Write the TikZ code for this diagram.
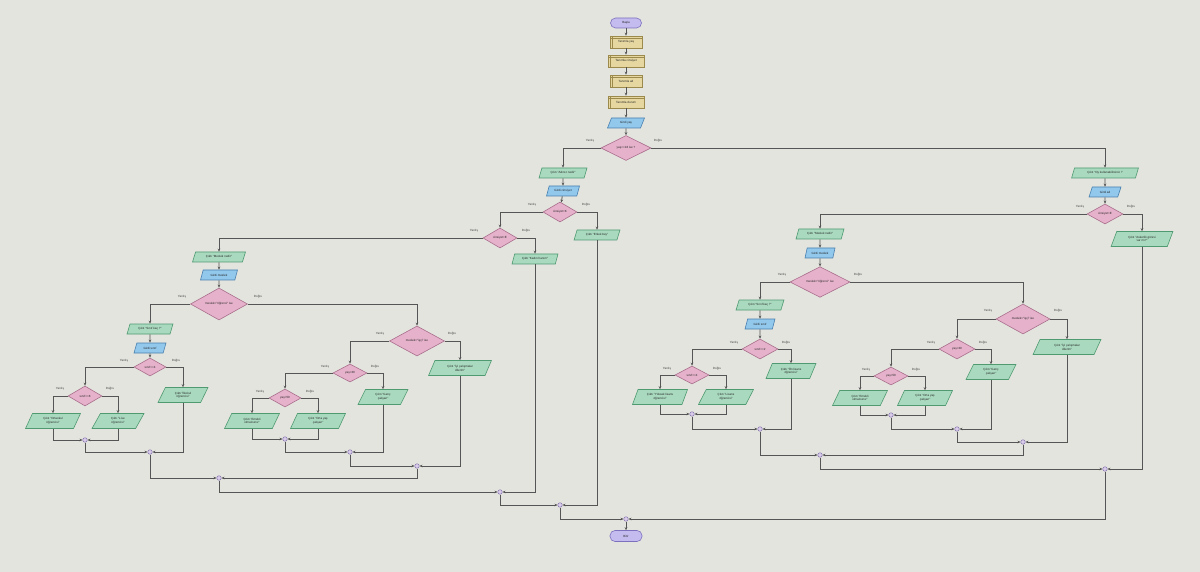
\documentclass[tikz,border=0pt]{standalone}
\usepackage{fontspec}
\setmainfont{Liberation Sans}
\usetikzlibrary{shapes.geometric,arrows.meta}
\definecolor{bgc}{HTML}{E3E4DE}
\definecolor{linec}{HTML}{555555}
\definecolor{termf}{HTML}{C4BCEE}\definecolor{termd}{HTML}{7D70BC}
\definecolor{declf}{HTML}{E6D7A0}\definecolor{decld}{HTML}{9C8A4C}
\definecolor{inpf}{HTML}{92C8EC}\definecolor{inpd}{HTML}{4A80AE}
\definecolor{outf}{HTML}{A9DABF}\definecolor{outd}{HTML}{4F9A70}
\definecolor{decf}{HTML}{E6B2CB}\definecolor{decd}{HTML}{A86E8C}
\definecolor{jnf}{HTML}{D9CCEA}\definecolor{jnd}{HTML}{8A78AE}
\tikzset{
  txt/.style={font=\fontsize{3}{3.6}\selectfont, text=black!85, inner sep=0.5pt, align=center},
  term/.style={txt, draw=termd, fill=termf, rounded corners=5pt, line width=0.6pt, minimum width=#1, minimum height=10pt},
  decl/.style={txt, draw=decld, fill=declf, line width=0.6pt, minimum width=#1, minimum height=12pt,
    path picture={\draw[decld, line width=0.4pt] ([xshift=2pt]path picture bounding box.north west) -- ([xshift=2pt]path picture bounding box.south west);
                  \draw[decld, line width=0.4pt] ([yshift=-2pt]path picture bounding box.north west) -- ([yshift=-2pt]path picture bounding box.north east);}},
  para/.style={txt, trapezium, trapezium left angle=65, trapezium right angle=115, trapezium stretches=true, line width=0.6pt},
  inp/.style={para, draw=inpd, fill=inpf, minimum width=#1, minimum height=10pt},
  outp/.style={para, draw=outd, fill=outf, minimum width=#1, minimum height=10pt},
  outpp/.style={para, draw=outd, fill=outf, minimum width=#1, minimum height=15pt},
  dec/.style 2 args={txt, diamond, draw=decd, fill=decf, line width=0.6pt, minimum width=#1, minimum height=#2, inner sep=0pt},
  jn/.style={circle, draw=jnd, fill=jnf, line width=0.5pt, minimum size=4.5pt, inner sep=0pt},
  lab/.style={font=\fontsize{3}{3.6}\selectfont, text=black!75, inner sep=0pt},
  arr/.style={draw=linec, line width=0.8pt, -{Stealth[length=3pt,width=2.6pt]}},
  ln/.style={draw=linec, line width=0.8pt}
}
\begin{document}
\begin{tikzpicture}[x=1pt,y=-1pt]
\fill[bgc] (0,0) rectangle (1200,572);
\useasboundingbox (0,0) rectangle (1200,572);
% ---- spine
\node[term=31pt] (start) at (626,23) {Başla};
\node[decl=32pt] (dc1) at (626,42) {Tanımla yaş};
\node[decl=36pt] (dc2) at (626,61) {Tanımla cinsiyet};
\node[decl=32pt] (dc3) at (626,81) {Tanımla ad};
\node[decl=36pt] (dc4) at (626,102) {Tanımla durum};
\node[inp=37pt] (in0) at (626,123) {Girdi yaş};
\node[dec={50pt}{25pt}] (d0) at (626,148) {yaş>=18 ise ?};
\node[lab] (l0a) at (590,141) {Yanlış};
\node[lab] (l0b) at (658,141) {Doğru};
\draw[arr] (start) -- (dc1);
\draw[arr] (dc1) -- (dc2);
\draw[arr] (dc2) -- (dc3);
\draw[arr] (dc3) -- (dc4);
\draw[arr] (dc4) -- (in0);
\draw[arr] (in0) -- (d0);
% ---- left part
\node[outp=48pt] (o1) at (563,173) {Çıktı "Adınız nedir"};
\node[inp=33pt] (in1) at (563,191) {Girdi cinsiyet};
\node[dec={34pt}{20pt}] (d1) at (560,212) {cinsiyet=K};
\node[lab] (l1a) at (532,205) {Yanlış};
\node[lab] (l1b) at (586,205) {Doğru};
\node[outp=46pt] (o1r) at (597,235) {Çıktı "Erkek bey"};
\node[dec={34pt}{20pt}] (d2) at (500,238) {cinsiyet=E};
\node[lab] (l2a) at (474,231) {Yanlış};
\node[lab] (l2b) at (526,231) {Doğru};
\node[outp=46pt] (o2r) at (535,259) {Çıktı "Kadın hanım"};
\node[outp=53pt] (o3) at (219,257) {Çıktı "Meslek nedir"};
\node[inp=37pt] (in3) at (219,275) {Girdi meslek};
\node[dec={57pt}{32pt}] (d3) at (219,304) {meslek="öğrenci" ise};
\node[lab] (l3a) at (182,297) {Yanlış};
\node[lab] (l3b) at (258,297) {Doğru};
\node[outp=46pt] (o4) at (150,329) {Çıktı "Sınıf kaç ?"};
\node[inp=32pt] (in4) at (150,348) {Girdi sınıf};
\node[dec={32pt}{18pt}] (d4) at (150,367) {sınıf<=4};
\node[lab] (l4a) at (124,361) {Yanlış};
\node[lab] (l4b) at (176,361) {Doğru};
\node[outpp=50pt] (o4r) at (183,395) {Çıktı "İlkokul\\öğrencisi"};
\node[dec={34pt}{20pt}] (d5) at (85,396) {sınıf<=8};
\node[lab] (l5a) at (60,389) {Yanlış};
\node[lab] (l5b) at (110,389) {Doğru};
\node[outpp=55pt] (o5l) at (53,421) {Çıktı "Ortaokul\\öğrencisi"};
\node[outpp=52pt] (o5r) at (118,421) {Çıktı "Lise\\öğrencisi"};
\node[dec={55pt}{30pt}] (d6) at (417,341) {meslek="işçi" ise};
\node[lab] (l6a) at (380,334) {Yanlış};
\node[lab] (l6b) at (452,334) {Doğru};
\node[outpp=63pt] (o6r) at (460,368) {Çıktı "İyi çalışmalar\\dilerim"};
\node[dec={34pt}{18pt}] (d7) at (350,373) {yaş<30};
\node[lab] (l7a) at (325,367) {Yanlış};
\node[lab] (l7b) at (375,367) {Doğru};
\node[outpp=50pt] (o7r) at (383,397) {Çıktı "Genç\\çalışan"};
\node[dec={32pt}{18pt}] (d8) at (285,398) {yaş<50};
\node[lab] (l8a) at (260,392) {Yanlış};
\node[lab] (l8b) at (310,392) {Doğru};
\node[outpp=55pt] (o8l) at (252,421) {Çıktı "Emekli\\olmalısınız"};
\node[outpp=55pt] (o8r) at (318,421) {Çıktı "Orta yaş\\çalışan"};
% ---- right part
\node[outp=67pt] (o9) at (1105,173) {Çıktı "Oy kullanabilirsiniz !"};
\node[inp=32pt] (in9) at (1105,192) {Girdi ad};
\node[dec={36pt}{20pt}] (d9) at (1105,214) {cinsiyet=E};
\node[lab] (l9a) at (1080,207) {Yanlış};
\node[lab] (l9b) at (1131,207) {Doğru};
\node[outpp=62pt] (o9r) at (1142,239) {Çıktı "Askerlik görevi\\var mı?"};
\node[outp=48pt] (o10) at (820,234) {Çıktı "Meslek nedir"};
\node[inp=30pt] (in10) at (820,253) {Girdi meslek};
\node[dec={60pt}{30pt}] (d10) at (820,282) {meslek="öğrenci" ise};
\node[lab] (l10a) at (782,275) {Yanlış};
\node[lab] (l10b) at (858,275) {Doğru};
\node[outp=48pt] (o11) at (760,305) {Çıktı "Sınıf kaç ?"};
\node[inp=30pt] (in11) at (760,324) {Girdi sınıf};
\node[dec={36pt}{20pt}] (d11) at (760,349) {sınıf<=2};
\node[lab] (l11a) at (734,343) {Yanlış};
\node[lab] (l11b) at (786,343) {Doğru};
\node[outpp=50pt] (o11r) at (791,371) {Çıktı "Ön lisans\\öğrencisi"};
\node[dec={34pt}{18pt}] (d12) at (692,375) {sınıf<=4};
\node[lab] (l12a) at (667,369) {Yanlış};
\node[lab] (l12b) at (717,369) {Doğru};
\node[outpp=55pt] (o12l) at (660,397) {Çıktı "Yüksek lisans\\öğrencisi"};
\node[outpp=55pt] (o12r) at (726,397) {Çıktı "Lisans\\öğrencisi"};
\node[dec={54pt}{30pt}] (d13) at (1023,319) {meslek="işçi" ise};
\node[lab] (l13a) at (988,311) {Yanlış};
\node[lab] (l13b) at (1058,311) {Doğru};
\node[outpp=68pt] (o13r) at (1067,347) {Çıktı "İyi çalışmalar\\dilerim"};
\node[dec={36pt}{20pt}] (d14) at (957,349) {yaş<30};
\node[lab] (l14a) at (931,343) {Yanlış};
\node[lab] (l14b) at (983,343) {Doğru};
\node[outpp=50pt] (o14r) at (991,372) {Çıktı "Genç\\çalışan"};
\node[dec={34pt}{18pt}] (d15) at (891,376) {yaş<50};
\node[lab] (l15a) at (866,370) {Yanlış};
\node[lab] (l15b) at (916,370) {Doğru};
\node[outpp=55pt] (o15l) at (860,398) {Çıktı "Emekli\\olmalısınız"};
\node[outpp=55pt] (o15r) at (925,398) {Çıktı "Orta yaş\\çalışan"};
% ---- junctions
\node[jn] (c5) at (85,440) {};
\node[jn] (c4) at (150,452) {};
\node[jn] (c8) at (285,439) {};
\node[jn] (c7) at (350,452) {};
\node[jn] (c6) at (417,466) {};
\node[jn] (c3) at (219,478) {};
\node[jn] (c2) at (500,492) {};
\node[jn] (c1) at (560,505) {};
\node[jn] (c0) at (626,519) {};
\node[jn] (c12) at (692,414) {};
\node[jn] (c11) at (760,429) {};
\node[jn] (c15) at (891,415) {};
\node[jn] (c14) at (957,429) {};
\node[jn] (c13) at (1023,442) {};
\node[jn] (c10) at (820,455) {};
\node[jn] (c9) at (1105,469) {};
\node[term=32pt, minimum height=11pt] (end) at (626,536) {Bitir};
% ---- connectors: top branches
\draw[arr] (d0.west) -| (o1.north);
\draw[arr] (d0.east) -| (o9.north);
\draw[arr] (o1) -- (in1);
\draw[arr] (in1) -- (d1);
\draw[arr] (d1.west) -| (d2.north);
\draw[arr] (d1.east) -| (o1r.north);
\draw[arr] (d2.east) -| (o2r.north);
\draw[arr] (d2.west) -| (o3.north);
\draw[arr] (o3) -- (in3);
\draw[arr] (in3) -- (d3);
\draw[arr] (d3.west) -| (o4.north);
\draw[arr] (d3.east) -| (d6.north);
\draw[arr] (o4) -- (in4);
\draw[arr] (in4) -- (d4);
\draw[arr] (d4.west) -| (d5.north);
\draw[arr] (d4.east) -| (o4r.north);
\draw[arr] (d5.west) -| (o5l.north);
\draw[arr] (d5.east) -| (o5r.north);
\draw[arr] (d6.west) -| (d7.north);
\draw[arr] (d6.east) -| (o6r.north);
\draw[arr] (d7.west) -| (d8.north);
\draw[arr] (d7.east) -| (o7r.north);
\draw[arr] (d8.west) -| (o8l.north);
\draw[arr] (d8.east) -| (o8r.north);
% right
\draw[arr] (o9) -- (in9);
\draw[arr] (in9) -- (d9);
\draw[arr] (d9.east) -| (o9r.north);
\draw[arr] (d9.west) -| (o10.north);
\draw[arr] (o10) -- (in10);
\draw[arr] (in10) -- (d10);
\draw[arr] (d10.west) -| (o11.north);
\draw[arr] (d10.east) -| (d13.north);
\draw[arr] (o11) -- (in11);
\draw[arr] (in11) -- (d11);
\draw[arr] (d11.west) -| (d12.north);
\draw[arr] (d11.east) -| (o11r.north);
\draw[arr] (d12.west) -| (o12l.north);
\draw[arr] (d12.east) -| (o12r.north);
\draw[arr] (d13.west) -| (d14.north);
\draw[arr] (d13.east) -| (o13r.north);
\draw[arr] (d14.west) -| (d15.north);
\draw[arr] (d14.east) -| (o14r.north);
\draw[arr] (d15.west) -| (o15l.north);
\draw[arr] (d15.east) -| (o15r.north);
% ---- merges left
\draw[arr] (o5l.south) |- (c5);
\draw[arr] (o5r.south) |- (c5);
\draw[arr] (c5) |- (c4);
\draw[arr] (o4r.south) |- (c4);
\draw[arr] (o8l.south) |- (c8);
\draw[arr] (o8r.south) |- (c8);
\draw[arr] (c8) |- (c7);
\draw[arr] (o7r.south) |- (c7);
\draw[arr] (c7) |- (c6);
\draw[arr] (o6r.south) |- (c6);
\draw[arr] (c4) |- (c3);
\draw[arr] (c6) |- (c3);
\draw[arr] (c3) |- (c2);
\draw[arr] (o2r.south) |- (c2);
\draw[arr] (c2) |- (c1);
\draw[arr] (o1r.south) |- (c1);
\draw[arr] (c1) |- (c0);
% ---- merges right
\draw[arr] (o12l.south) |- (c12);
\draw[arr] (o12r.south) |- (c12);
\draw[arr] (c12) |- (c11);
\draw[arr] (o11r.south) |- (c11);
\draw[arr] (o15l.south) |- (c15);
\draw[arr] (o15r.south) |- (c15);
\draw[arr] (c15) |- (c14);
\draw[arr] (o14r.south) |- (c14);
\draw[arr] (c14) |- (c13);
\draw[arr] (o13r.south) |- (c13);
\draw[arr] (c11) |- (c10);
\draw[arr] (c13) |- (c10);
\draw[arr] (c10) |- (c9);
\draw[arr] (o9r.south) |- (c9);
\draw[arr] (c9) |- (c0);
\draw[arr] (c0) -- (end);
\end{tikzpicture}
\end{document}
